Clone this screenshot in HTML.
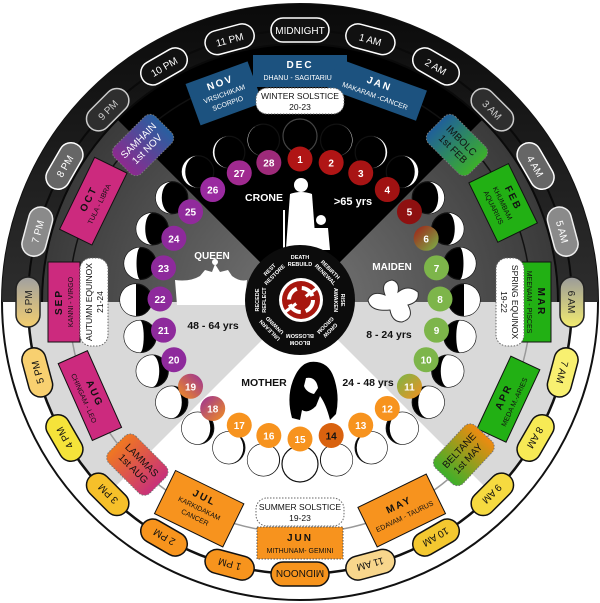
<!DOCTYPE html>
<html><head><meta charset="utf-8"><style>
html,body{margin:0;padding:0;background:#fff;}
svg{display:block;}
text{font-family:"Liberation Sans Narrow","Liberation Sans",sans-serif;text-anchor:middle;}
</style></head><body>
<svg width="600" height="603" viewBox="0 0 600 603" xmlns="http://www.w3.org/2000/svg">
<defs>
<linearGradient id="g6h" x1="0" y1="0" x2="1" y2="0"><stop offset="0" stop-color="#9a9a9a"/><stop offset="1" stop-color="#f3ec70"/></linearGradient>
<linearGradient id="g18h" x1="0" y1="0" x2="1" y2="0"><stop offset="0" stop-color="#f3ce70"/><stop offset="1" stop-color="#a0a0a0"/></linearGradient>
<linearGradient id="gSam" x1="0" y1="0" x2="1" y2="0"><stop offset="0" stop-color="#8d2a8f"/><stop offset="1" stop-color="#2760a0"/></linearGradient>
<linearGradient id="gImb" x1="0" y1="0" x2="1" y2="0"><stop offset="0" stop-color="#1f5f9a"/><stop offset="1" stop-color="#3cb02a"/></linearGradient>
<linearGradient id="gBel" x1="0" y1="0" x2="1" y2="0"><stop offset="0" stop-color="#3cb02a"/><stop offset="1" stop-color="#f08a10"/></linearGradient>
<linearGradient id="gLam" x1="0" y1="0" x2="1" y2="0"><stop offset="0" stop-color="#f07820"/><stop offset="1" stop-color="#c8307a"/></linearGradient>
<linearGradient id="gd6" x1="0" y1="0" x2="1" y2="1"><stop offset="0" stop-color="#a01c18"/><stop offset="1" stop-color="#7ab648"/></linearGradient>
<linearGradient id="gd11" x1="0" y1="0" x2="1" y2="1"><stop offset="0" stop-color="#7ab648"/><stop offset="1" stop-color="#f29020"/></linearGradient>
<linearGradient id="gd18" x1="0" y1="0" x2="1" y2="1"><stop offset="0" stop-color="#9a3098"/><stop offset="1" stop-color="#f29020"/></linearGradient>
<linearGradient id="gd19" x1="0" y1="1" x2="1" y2="0"><stop offset="0" stop-color="#f29020"/><stop offset="1" stop-color="#9a3098"/></linearGradient>
<radialGradient id="gside" cx="300" cy="302" r="258" gradientUnits="userSpaceOnUse"><stop offset="0.2" stop-color="#6a6a6a"/><stop offset="1" stop-color="#3a3a3a"/></radialGradient>
<linearGradient id="gouter" x1="0" y1="0" x2="0" y2="1"><stop offset="0" stop-color="#0a0a0a"/><stop offset="1" stop-color="#2e2e2e"/></linearGradient>
</defs>

<circle cx="300" cy="302" r="298" fill="#fff" stroke="#111" stroke-width="2"/>
<path d="M2,302 A298 298 0 0 1 598,302 Z" fill="url(#gouter)"/>
<path d="M300,302 L42,302 A258 258 0 0 1 117.6,119.6 Z" fill="url(#gside)"/>
<path d="M300,302 L482.4,119.6 A258 258 0 0 1 558,302 Z" fill="url(#gside)"/>
<path d="M300,302 L117.6,119.6 A258 258 0 0 1 482.4,119.6 Z" fill="#000"/>
<path d="M42,302 A258 258 0 0 1 558,302" fill="none" stroke="#0a0a0a" stroke-width="2"/>
<path d="M28,302 A272 272 0 0 0 572,302 Z" fill="#d9d9d9"/>
<path d="M300,302 L492.3,494.3 A272 272 0 0 1 107.7,494.3 Z" fill="#fff"/>
<path d="M28,302 A272 272 0 0 0 572,302" fill="none" stroke="#111" stroke-width="2.5"/>
<path d="M28,302 A272 272 0 0 1 572,302" fill="none" stroke="#0a0a0a" stroke-width="2"/>
<path d="M69,302 A231 231 0 0 0 531,302" fill="none" stroke="#999" stroke-width="1.5"/>
<path d="M69,302 A231 231 0 0 1 531,302" fill="none" stroke="#111" stroke-width="1.5"/>

<g font-size="10">
<g transform="rotate(0 300 302)"><rect x="271" y="18" width="58" height="24" rx="12" fill="#111" stroke="#fff" stroke-width="1.5"/><text x="300" y="34" fill="#fff">MIDNIGHT</text></g>
<g transform="rotate(15 300 302)"><rect x="275" y="18" width="50" height="24" rx="12" fill="#111" stroke="#fff" stroke-width="1.5"/><text x="300" y="34" fill="#fff">1 AM</text></g>
<g transform="rotate(30 300 302)"><rect x="275" y="18" width="50" height="24" rx="12" fill="#111" stroke="#fff" stroke-width="1.5"/><text x="300" y="34" fill="#fff">2 AM</text></g>
<g transform="rotate(45 300 302)"><rect x="275" y="18" width="50" height="24" rx="12" fill="#2e2e2e" stroke="#ccc" stroke-width="1.5"/><text x="300" y="34" fill="#ccc">3 AM</text></g>
<g transform="rotate(60 300 302)"><rect x="275" y="18" width="50" height="24" rx="12" fill="#666" stroke="#fff" stroke-width="1.5"/><text x="300" y="34" fill="#fff">4 AM</text></g>
<g transform="rotate(75 300 302)"><rect x="275" y="18" width="50" height="24" rx="12" fill="#8a8a8a" stroke="#eee" stroke-width="1.5"/><text x="300" y="34" fill="#fff">5 AM</text></g>
<g transform="rotate(90 300 302)"><rect x="275" y="18" width="50" height="24" rx="12" fill="url(#g6h)" stroke="#222" stroke-width="1.5"/><text x="300" y="34" fill="#222">6 AM</text></g>
<g transform="rotate(105 300 302)"><rect x="275" y="18" width="50" height="24" rx="12" fill="#f8f070" stroke="#111" stroke-width="1.5"/><text x="300" y="34" fill="#111">7 AM</text></g>
<g transform="rotate(120 300 302)"><rect x="275" y="18" width="50" height="24" rx="12" fill="#f7ea55" stroke="#111" stroke-width="1.5"/><text x="300" y="34" fill="#111">8 AM</text></g>
<g transform="rotate(135 300 302)"><rect x="275" y="18" width="50" height="24" rx="12" fill="#f6da40" stroke="#111" stroke-width="1.5"/><text x="300" y="34" fill="#111">9 AM</text></g>
<g transform="rotate(150 300 302)"><rect x="275" y="18" width="50" height="24" rx="12" fill="#f4c830" stroke="#111" stroke-width="1.5"/><text x="300" y="34" fill="#111">10 AM</text></g>
<g transform="rotate(165 300 302)"><rect x="275" y="18" width="50" height="24" rx="12" fill="#f8d68c" stroke="#111" stroke-width="1.5"/><text x="300" y="34" fill="#111">11 AM</text></g>
<g transform="rotate(180 300 302)"><rect x="271" y="18" width="58" height="24" rx="12" fill="#f7941d" stroke="#111" stroke-width="1.5"/><text x="300" y="34" fill="#111">MIDNOON</text></g>
<g transform="rotate(195 300 302)"><rect x="275" y="18" width="50" height="24" rx="12" fill="#f7941d" stroke="#111" stroke-width="1.5"/><text x="300" y="34" fill="#111">1 PM</text></g>
<g transform="rotate(210 300 302)"><rect x="275" y="18" width="50" height="24" rx="12" fill="#f7941d" stroke="#111" stroke-width="1.5"/><text x="300" y="34" fill="#111">2 PM</text></g>
<g transform="rotate(225 300 302)"><rect x="275" y="18" width="50" height="24" rx="12" fill="#f6c02a" stroke="#111" stroke-width="1.5"/><text x="300" y="34" fill="#111">3 PM</text></g>
<g transform="rotate(240 300 302)"><rect x="275" y="18" width="50" height="24" rx="12" fill="#f5e33a" stroke="#111" stroke-width="1.5"/><text x="300" y="34" fill="#111">4 PM</text></g>
<g transform="rotate(255 300 302)"><rect x="275" y="18" width="50" height="24" rx="12" fill="#f8d070" stroke="#111" stroke-width="1.5"/><text x="300" y="34" fill="#111">5 PM</text></g>
<g transform="rotate(270 300 302)"><rect x="275" y="18" width="50" height="24" rx="12" fill="url(#g18h)" stroke="#222" stroke-width="1.5"/><text x="300" y="34" fill="#222">6 PM</text></g>
<g transform="rotate(285 300 302)"><rect x="275" y="18" width="50" height="24" rx="12" fill="#8a8a8a" stroke="#eee" stroke-width="1.5"/><text x="300" y="34" fill="#fff">7 PM</text></g>
<g transform="rotate(300 300 302)"><rect x="275" y="18" width="50" height="24" rx="12" fill="#666" stroke="#fff" stroke-width="1.5"/><text x="300" y="34" fill="#fff">8 PM</text></g>
<g transform="rotate(315 300 302)"><rect x="275" y="18" width="50" height="24" rx="12" fill="#2e2e2e" stroke="#ccc" stroke-width="1.5"/><text x="300" y="34" fill="#ccc">9 PM</text></g>
<g transform="rotate(330 300 302)"><rect x="275" y="18" width="50" height="24" rx="12" fill="#111" stroke="#fff" stroke-width="1.5"/><text x="300" y="34" fill="#fff">10 PM</text></g>
<g transform="rotate(345 300 302)"><rect x="275" y="18" width="50" height="24" rx="12" fill="#111" stroke="#fff" stroke-width="1.5"/><text x="300" y="34" fill="#fff">11 PM</text></g>
</g>

<g font-size="7">
<g transform="rotate(0 300 302)"><g transform="translate(300,71)"><rect x="-47" y="-16" width="94" height="32" fill="#1c527f"/><text y="-3" font-size="10" font-weight="bold" letter-spacing="2" fill="#fff">DEC</text><text y="9" fill="#fff">DHANU - SAGITARIUS</text></g></g>
<g transform="rotate(20 300 302)"><g transform="translate(300,76)"><rect x="-47" y="-16" width="94" height="32" fill="#1c527f"/><text y="-3" font-size="10" font-weight="bold" letter-spacing="2" fill="#fff">JAN</text><text y="9" fill="#fff">MAKARAM -CANCER</text></g></g>
<g transform="rotate(340 300 302)"><g transform="translate(300,80)"><rect x="-33" y="-22" width="66" height="44" fill="#1c527f"/><text y="-8" font-size="10" font-weight="bold" letter-spacing="2" fill="#fff">NOV</text><text y="3" fill="#fff">VRSICHIKAM</text><text y="13" fill="#fff">SCORPIO</text></g></g>
<g transform="rotate(64 300 302)"><g transform="translate(300,76)"><rect x="-33" y="-22" width="66" height="44" fill="#22b014" stroke="#111"/><text y="-8" font-size="10" font-weight="bold" letter-spacing="2" fill="#111">FEB</text><text y="3" fill="#111">KHUMBAM</text><text y="13" fill="#111">AQUARIUS</text></g></g>
<g transform="rotate(90 300 302)"><g transform="translate(300,66)"><rect x="-40" y="-15" width="80" height="30" fill="#22b014" stroke="#111"/><text y="-2" font-size="10" font-weight="bold" letter-spacing="2" fill="#111">MAR</text><text y="9" fill="#111">MEENAM - PISCES</text></g></g>
<g transform="rotate(115 300 302)"><g transform="translate(300,72) rotate(180)"><rect x="-40" y="-16" width="80" height="32" fill="#22b014" stroke="#111"/><text y="-2" font-size="10" font-weight="bold" letter-spacing="2" fill="#111">APR</text><text y="9" fill="#111">MEDA M.-ARIES</text></g></g>
<g transform="rotate(154 300 302)"><g transform="translate(300,70) rotate(180)"><rect x="-38" y="-22" width="76" height="44" fill="#f7931e" stroke="#111"/><text y="-3" font-size="10" font-weight="bold" letter-spacing="2" fill="#111">MAY</text><text y="9" fill="#111">EDAVAM - TAURUS</text></g></g>
<g transform="rotate(180 300 302)"><g transform="translate(300,61) rotate(180)"><rect x="-43" y="-16" width="86" height="32" fill="#f7931e" stroke="#555" stroke-dasharray="1.5 1.5"/><text y="-2" font-size="10" font-weight="bold" letter-spacing="2" fill="#111">JUN</text><text y="10" fill="#111">MITHUNAM- GEMINI</text></g></g>
<g transform="rotate(206 300 302)"><g transform="translate(300,72) rotate(180)"><rect x="-38" y="-24" width="76" height="48" fill="#f7931e" stroke="#111"/><text y="-9" font-size="10" font-weight="bold" letter-spacing="2" fill="#111">JUL</text><text y="2" fill="#111">KARKIDAKAM</text><text y="12" fill="#111">CANCER</text></g></g>
<g transform="rotate(246 300 302)"><g transform="translate(300,72) rotate(180)"><rect x="-42" y="-16" width="84" height="32" fill="#cc2a7e" stroke="#111"/><text y="-2" font-size="10" font-weight="bold" letter-spacing="2" fill="#111">AUG</text><text y="9" fill="#111">CHINGAM - LEO</text></g></g>
<g transform="rotate(270 300 302)"><g transform="translate(300,66)"><rect x="-40" y="-16" width="80" height="32" fill="#cc2a7e" stroke="#111"/><text y="-2" font-size="10" font-weight="bold" letter-spacing="2" fill="#111">SEP</text><text y="9" fill="#111">KANNI - VIRGO</text></g></g>
<g transform="rotate(296 300 302)"><g transform="translate(300,72)"><rect x="-40" y="-18" width="80" height="36" fill="#cc2a7e" stroke="#111"/><text y="-2" font-size="10" font-weight="bold" letter-spacing="2" fill="#111">OCT</text><text y="9" fill="#111">TULA - LIBRA</text></g></g>
</g>

<g font-size="8.5" fill="#111">
<g transform="rotate(0 300 302)"><g transform="translate(300,101)"><rect x="-44" y="-13" width="88" height="26" rx="11" fill="#fff" stroke="#666" stroke-dasharray="1.5 1.5"/><text y="-2">WINTER SOLSTICE</text><text y="9">20-23</text></g></g>
<g transform="rotate(90 300 302)"><g transform="translate(300,92)"><rect x="-44" y="-14" width="88" height="28" rx="11" fill="#fff" stroke="#666" stroke-dasharray="1.5 1.5"/><text y="-2">SPRING EQUINOX</text><text y="9">19-22</text></g></g>
<g transform="rotate(180 300 302)"><g transform="translate(300,92) rotate(180)"><rect x="-44" y="-14" width="88" height="28" rx="11" fill="#fff" stroke="#666" stroke-dasharray="1.5 1.5"/><text y="-2">SUMMER SOLSTICE</text><text y="9">19-23</text></g></g>
<g transform="rotate(270 300 302)"><g transform="translate(300,96)"><rect x="-44" y="-14" width="88" height="28" rx="11" fill="#fff" stroke="#666" stroke-dasharray="1.5 1.5"/><text y="-2">AUTUMN EQUINOX</text><text y="9">21-24</text></g></g>
</g>

<g font-size="10" fill="#fff">
<g transform="rotate(315 300 302)"><g transform="translate(300,80)"><rect x="-29" y="-19" width="58" height="38" rx="8" fill="url(#gSam)" stroke="#777" stroke-dasharray="1.5 1.5"/><text y="-3">SAMHAIN</text><text y="9">1st NOV</text></g></g>
<g transform="rotate(45 300 302)"><g transform="translate(300,80)"><rect x="-29" y="-19" width="58" height="38" rx="8" fill="url(#gImb)" stroke="#777" stroke-dasharray="1.5 1.5"/><text y="-3" fill="#111">IMBOLC</text><text y="9" fill="#111">1st FEB</text></g></g>
<g transform="rotate(133 300 302)"><g transform="translate(300,78) rotate(180)"><rect x="-29" y="-19" width="58" height="38" rx="8" fill="url(#gBel)" stroke="#777" stroke-dasharray="1.5 1.5"/><text y="-3" fill="#111">BELTANE</text><text y="9" fill="#111">1st MAY</text></g></g>
<g transform="rotate(225 300 302)"><g transform="translate(300,72) rotate(180)"><rect x="-29" y="-19" width="58" height="38" rx="8" fill="url(#gLam)" stroke="#777" stroke-dasharray="1.5 1.5"/><text y="-3" fill="#111">LAMMAS</text><text y="9" fill="#111">1st AUG</text></g></g>
</g>

<g stroke="#111" stroke-width="1.2">
<g transform="translate(300,300) rotate(0) translate(0,-164) rotate(0)"><circle r="17" fill="#000" stroke="#444"/></g>
<g transform="translate(300,300) rotate(12.86) translate(0,-164) rotate(-12.86)"><circle r="16" fill="#000"/><path d="M0,-16 A16 16 0 0 1 0,16 A15.6 16 0 0 0 0,-16Z" fill="#fff" stroke="none"/></g>
<g transform="translate(300,300) rotate(25.71) translate(0,-164) rotate(-25.71)"><circle r="16" fill="#000"/><path d="M0,-16 A16 16 0 0 1 0,16 A14.4 16 0 0 0 0,-16Z" fill="#fff" stroke="none"/></g>
<g transform="translate(300,300) rotate(38.57) translate(0,-164) rotate(-38.57)"><circle r="16" fill="#000"/><path d="M0,-16 A16 16 0 0 1 0,16 A12.5 16 0 0 0 0,-16Z" fill="#fff" stroke="none"/></g>
<g transform="translate(300,300) rotate(51.43) translate(0,-164) rotate(-51.43)"><circle r="16" fill="#000"/><path d="M0,-16 A16 16 0 0 1 0,16 A10 16 0 0 0 0,-16Z" fill="#fff" stroke="none"/></g>
<g transform="translate(300,300) rotate(64.29) translate(0,-164) rotate(-64.29)"><circle r="16" fill="#000"/><path d="M0,-16 A16 16 0 0 1 0,16 A7 16 0 0 0 0,-16Z" fill="#fff" stroke="none"/></g>
<g transform="translate(300,300) rotate(77.14) translate(0,-164) rotate(-77.14)"><circle r="16" fill="#000"/><path d="M0,-16 A16 16 0 0 1 0,16 A3.6 16 0 0 0 0,-16Z" fill="#fff" stroke="none"/></g>
<g transform="translate(300,300) rotate(90) translate(0,-164) rotate(-90)"><circle r="16" fill="#000"/><path d="M0,-16 A16 16 0 0 1 0,16Z" fill="#fff" stroke="none"/></g>
<g transform="translate(300,300) rotate(102.86) translate(0,-164) rotate(-102.86)"><circle r="16" fill="#000"/><path d="M0,-16 A16 16 0 0 1 0,16 A3.6 16 0 0 1 0,-16Z" fill="#fff" stroke="none"/></g>
<g transform="translate(300,300) rotate(115.71) translate(0,-164) rotate(-115.71)"><circle r="16" fill="#000"/><path d="M0,-16 A16 16 0 0 1 0,16 A7 16 0 0 1 0,-16Z" fill="#fff" stroke="none"/></g>
<g transform="translate(300,300) rotate(128.57) translate(0,-164) rotate(-128.57)"><circle r="16" fill="#000"/><path d="M0,-16 A16 16 0 0 1 0,16 A10 16 0 0 1 0,-16Z" fill="#fff" stroke="none"/></g>
<g transform="translate(300,300) rotate(141.43) translate(0,-164) rotate(-141.43)"><circle r="16" fill="#000"/><path d="M0,-16 A16 16 0 0 1 0,16 A12.5 16 0 0 1 0,-16Z" fill="#fff" stroke="none"/></g>
<g transform="translate(300,300) rotate(154.29) translate(0,-164) rotate(-154.29)"><circle r="16" fill="#000"/><path d="M0,-16 A16 16 0 0 1 0,16 A14.4 16 0 0 1 0,-16Z" fill="#fff" stroke="none"/></g>
<g transform="translate(300,300) rotate(167.14) translate(0,-164) rotate(-167.14)"><circle r="16" fill="#000"/><path d="M0,-16 A16 16 0 0 1 0,16 A15.6 16 0 0 1 0,-16Z" fill="#fff" stroke="none"/></g>
<g transform="translate(300,300) rotate(180) translate(0,-164) rotate(-180)"><circle r="18" fill="#fff"/></g>
<g transform="translate(300,300) rotate(192.86) translate(0,-164) rotate(-192.86)"><circle r="16" fill="#000"/><path d="M0,-16 A16 16 0 0 0 0,16 A15.6 16 0 0 0 0,-16Z" fill="#fff" stroke="none"/></g>
<g transform="translate(300,300) rotate(205.71) translate(0,-164) rotate(-205.71)"><circle r="16" fill="#000"/><path d="M0,-16 A16 16 0 0 0 0,16 A14.4 16 0 0 0 0,-16Z" fill="#fff" stroke="none"/></g>
<g transform="translate(300,300) rotate(218.57) translate(0,-164) rotate(-218.57)"><circle r="16" fill="#000"/><path d="M0,-16 A16 16 0 0 0 0,16 A12.5 16 0 0 0 0,-16Z" fill="#fff" stroke="none"/></g>
<g transform="translate(300,300) rotate(231.43) translate(0,-164) rotate(-231.43)"><circle r="16" fill="#000"/><path d="M0,-16 A16 16 0 0 0 0,16 A10 16 0 0 0 0,-16Z" fill="#fff" stroke="none"/></g>
<g transform="translate(300,300) rotate(244.29) translate(0,-164) rotate(-244.29)"><circle r="16" fill="#000"/><path d="M0,-16 A16 16 0 0 0 0,16 A7 16 0 0 0 0,-16Z" fill="#fff" stroke="none"/></g>
<g transform="translate(300,300) rotate(257.14) translate(0,-164) rotate(-257.14)"><circle r="16" fill="#000"/><path d="M0,-16 A16 16 0 0 0 0,16 A3.6 16 0 0 0 0,-16Z" fill="#fff" stroke="none"/></g>
<g transform="translate(300,300) rotate(270) translate(0,-164) rotate(-270)"><circle r="16" fill="#000"/><path d="M0,-16 A16 16 0 0 0 0,16Z" fill="#fff" stroke="none"/></g>
<g transform="translate(300,300) rotate(282.86) translate(0,-164) rotate(-282.86)"><circle r="16" fill="#000"/><path d="M0,-16 A16 16 0 0 0 0,16 A3.6 16 0 0 1 0,-16Z" fill="#fff" stroke="none"/></g>
<g transform="translate(300,300) rotate(295.71) translate(0,-164) rotate(-295.71)"><circle r="16" fill="#000"/><path d="M0,-16 A16 16 0 0 0 0,16 A7 16 0 0 1 0,-16Z" fill="#fff" stroke="none"/></g>
<g transform="translate(300,300) rotate(308.57) translate(0,-164) rotate(-308.57)"><circle r="16" fill="#000"/><path d="M0,-16 A16 16 0 0 0 0,16 A10 16 0 0 1 0,-16Z" fill="#fff" stroke="none"/></g>
<g transform="translate(300,300) rotate(321.43) translate(0,-164) rotate(-321.43)"><circle r="16" fill="#000"/><path d="M0,-16 A16 16 0 0 0 0,16 A12.5 16 0 0 1 0,-16Z" fill="#fff" stroke="none"/></g>
<g transform="translate(300,300) rotate(334.29) translate(0,-164) rotate(-334.29)"><circle r="16" fill="#000"/><path d="M0,-16 A16 16 0 0 0 0,16 A14.4 16 0 0 1 0,-16Z" fill="#fff" stroke="none"/></g>
<g transform="translate(300,300) rotate(347.14) translate(0,-164) rotate(-347.14)"><circle r="16" fill="#000"/><path d="M0,-16 A16 16 0 0 0 0,16 A15.6 16 0 0 1 0,-16Z" fill="#fff" stroke="none"/></g>
</g>

<g font-size="10" font-weight="bold" fill="#fff">
<g transform="translate(300,299) rotate(0) translate(0,-140) rotate(0)"><circle r="12.5" fill="#b01515"/><text y="4">1</text></g>
<g transform="translate(300,299) rotate(12.86) translate(0,-140) rotate(-12.86)"><circle r="12.5" fill="#b01515"/><text y="4">2</text></g>
<g transform="translate(300,299) rotate(25.71) translate(0,-140) rotate(-25.71)"><circle r="12.5" fill="#a81414"/><text y="4">3</text></g>
<g transform="translate(300,299) rotate(38.57) translate(0,-140) rotate(-38.57)"><circle r="12.5" fill="#a01212"/><text y="4">4</text></g>
<g transform="translate(300,299) rotate(51.43) translate(0,-140) rotate(-51.43)"><circle r="12.5" fill="#8e1010"/><text y="4">5</text></g>
<g transform="translate(300,299) rotate(64.29) translate(0,-140) rotate(-64.29)"><circle r="12.5" fill="url(#gd6)"/><text y="4">6</text></g>
<g transform="translate(300,299) rotate(77.14) translate(0,-140) rotate(-77.14)"><circle r="12.5" fill="#7db54a"/><text y="4">7</text></g>
<g transform="translate(300,299) rotate(90) translate(0,-140) rotate(-90)"><circle r="12.5" fill="#7db54a"/><text y="4">8</text></g>
<g transform="translate(300,299) rotate(102.86) translate(0,-140) rotate(-102.86)"><circle r="12.5" fill="#7db54a"/><text y="4">9</text></g>
<g transform="translate(300,299) rotate(115.71) translate(0,-140) rotate(-115.71)"><circle r="12.5" fill="#7db54a"/><text y="4">10</text></g>
<g transform="translate(300,299) rotate(128.57) translate(0,-140) rotate(-128.57)"><circle r="12.5" fill="url(#gd11)"/><text y="4">11</text></g>
<g transform="translate(300,299) rotate(141.43) translate(0,-140) rotate(-141.43)"><circle r="12.5" fill="#f7931e"/><text y="4">12</text></g>
<g transform="translate(300,299) rotate(154.29) translate(0,-140) rotate(-154.29)"><circle r="12.5" fill="#f7931e"/><text y="4">13</text></g>
<g transform="translate(300,299) rotate(167.14) translate(0,-140) rotate(-167.14)"><circle r="12.5" fill="#d9620f"/><text y="4" fill="#111">14</text></g>
<g transform="translate(300,299) rotate(180) translate(0,-140) rotate(-180)"><circle r="12.5" fill="#f7931e"/><text y="4">15</text></g>
<g transform="translate(300,299) rotate(192.86) translate(0,-140) rotate(-192.86)"><circle r="12.5" fill="#f7931e"/><text y="4">16</text></g>
<g transform="translate(300,299) rotate(205.71) translate(0,-140) rotate(-205.71)"><circle r="12.5" fill="#f7931e"/><text y="4">17</text></g>
<g transform="translate(300,299) rotate(218.57) translate(0,-140) rotate(-218.57)"><circle r="12.5" fill="url(#gd18)"/><text y="4">18</text></g>
<g transform="translate(300,299) rotate(231.43) translate(0,-140) rotate(-231.43)"><circle r="12.5" fill="url(#gd19)"/><text y="4">19</text></g>
<g transform="translate(300,299) rotate(244.29) translate(0,-140) rotate(-244.29)"><circle r="12.5" fill="#8e2a9c"/><text y="4">20</text></g>
<g transform="translate(300,299) rotate(257.14) translate(0,-140) rotate(-257.14)"><circle r="12.5" fill="#8e2a9c"/><text y="4">21</text></g>
<g transform="translate(300,299) rotate(270) translate(0,-140) rotate(-270)"><circle r="12.5" fill="#8e2a9c"/><text y="4">22</text></g>
<g transform="translate(300,299) rotate(282.86) translate(0,-140) rotate(-282.86)"><circle r="12.5" fill="#8e2a9c"/><text y="4">23</text></g>
<g transform="translate(300,299) rotate(295.71) translate(0,-140) rotate(-295.71)"><circle r="12.5" fill="#8e2a9c"/><text y="4">24</text></g>
<g transform="translate(300,299) rotate(308.57) translate(0,-140) rotate(-308.57)"><circle r="12.5" fill="#912a9c"/><text y="4">25</text></g>
<g transform="translate(300,299) rotate(321.43) translate(0,-140) rotate(-321.43)"><circle r="12.5" fill="#9a2aa0"/><text y="4">26</text></g>
<g transform="translate(300,299) rotate(334.29) translate(0,-140) rotate(-334.29)"><circle r="12.5" fill="#a02a90"/><text y="4">27</text></g>
<g transform="translate(300,299) rotate(347.14) translate(0,-140) rotate(-347.14)"><circle r="12.5" fill="#9e2a7a"/><text y="4">28</text></g>
</g>

<!-- crone -->
<g fill="#fff">
<circle cx="301" cy="185" r="7"/>
<path d="M290,194 Q301,190 312,194 L316,248 L286,248 Z"/>
<rect x="283" y="210" width="2" height="40"/>
<circle cx="321" cy="220" r="5"/>
<path d="M314,228 L328,228 L330,250 L314,250 Z"/>
</g>
<!-- crown -->
<g fill="#fff">
<path d="M175,280 Q190,282 200,276 L205,270 L212,272 L215,264 L220,272 L228,270 L232,276 Q240,282 247,280 L245,305 L177,305 Z"/>
<circle cx="215" cy="262" r="3"/>
</g>
<!-- flower -->
<g fill="#fff" stroke="#333" stroke-width="1">
<path d="M390,310 Q370,312 368,300 Q372,290 385,295 Q380,282 392,280 Q400,282 398,292 Q408,284 418,292 Q420,302 408,305 Q415,318 402,322 Q392,322 390,310 Z"/>
</g>
<!-- mother -->
<path d="M310,362 Q328,360 334,378 Q340,396 336,414 L330,420 Q326,404 320,396 L316,406 Q308,414 302,410 L300,420 L292,418 Q286,396 294,378 Q300,364 310,362 Z" fill="#000"/>
<path d="M306,378 Q316,376 318,388 L314,394 Q306,392 304,386 Z" fill="#fff"/>

<g font-family="Liberation Sans" font-weight="bold" font-size="10">
<text x="264" y="201" fill="#fff" font-size="10.5">CRONE</text>
<text x="353" y="205" fill="#fff" font-size="11">&gt;65 yrs</text>
<text x="212" y="259" fill="#fff">QUEEN</text>
<text x="213" y="329" fill="#111" font-size="10.5">48 - 64 yrs</text>
<text x="392" y="270" fill="#fff">MAIDEN</text>
<text x="389" y="338" fill="#111" font-size="10.5">8 - 24 yrs</text>
<text x="264" y="386" fill="#111" font-size="10.5">MOTHER</text>
<text x="368" y="386" fill="#111" font-size="10.5">24 - 48 yrs</text>
</g>

<circle cx="300" cy="300" r="55" fill="#0c0c0c"/>
<g font-weight="bold" font-size="5.5" fill="#fff">
<g transform="rotate(0 300 300)"><text x="300" y="259">DEATH</text><text x="300" y="266">REBUILD</text></g>
<g transform="rotate(45 300 300)"><text x="300" y="259">REBIRTH</text><text x="300" y="266">RENEWAL</text></g>
<g transform="rotate(90 300 300)"><text x="300" y="259">RISE</text><text x="300" y="266">AWAKEN</text></g>
<g transform="rotate(135 300 300)"><text x="300" y="259">GROW</text><text x="300" y="266">GROOM</text></g>
<g transform="rotate(180 300 300)"><text x="300" y="259">BLOOM</text><text x="300" y="266">BLOSSOM</text></g>
<g transform="rotate(225 300 300)"><text x="300" y="259">UNLEARN</text><text x="300" y="266">UNWIND</text></g>
<g transform="rotate(270 300 300)"><text x="300" y="259">RECEDE</text><text x="300" y="266">REFLECT</text></g>
<g transform="rotate(315 300 300)"><text x="300" y="259">REST</text><text x="300" y="266">RESTORE</text></g>
</g>
<circle cx="301" cy="300" r="22" fill="#fff"/>
<circle cx="301" cy="300" r="19" fill="#a8170f"/>
<circle cx="301" cy="300" r="12" fill="none" stroke="#fff" stroke-width="4" stroke-dasharray="14 5"/>
<path d="M285,312 L317,288" stroke="#fff" stroke-width="3"/>
<circle cx="301" cy="300" r="6" fill="#a8170f"/>
</svg>
</body></html>
